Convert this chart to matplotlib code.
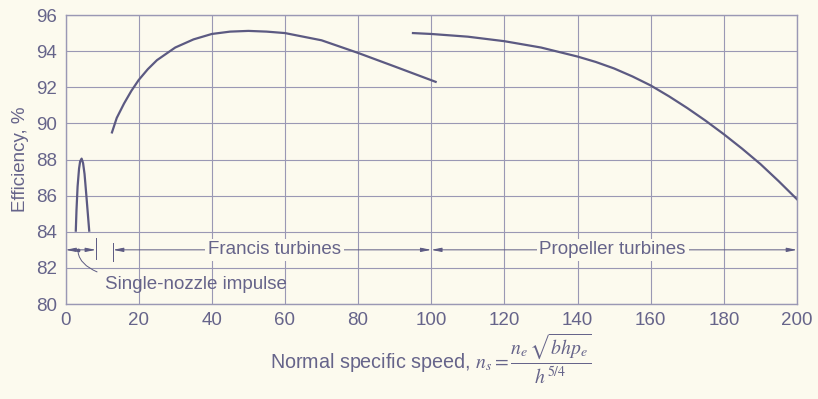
import matplotlib
matplotlib.use("Agg")
import matplotlib.pyplot as plt

# Efficiency curves versus normal specific speed
impulse_ns = [2.8, 3.0, 3.3, 3.7, 4.0, 4.4, 4.8, 5.2, 5.7, 6.1, 6.5]
impulse_eff = [84.0, 85.2, 86.5, 87.5, 87.9, 88.05, 87.8, 87.2, 86.0, 85.0, 84.0]

francis_ns = [12.7, 14, 16, 18, 20, 22.5, 25, 30, 35, 40, 45, 50, 55, 60, 70, 80, 90, 101.2]
francis_eff = [89.5, 90.3, 91.1, 91.8, 92.4, 93.0, 93.5, 94.2, 94.65, 94.95, 95.08, 95.12, 95.08, 95.0, 94.6, 93.9, 93.15, 92.3]

propeller_ns = [95, 100, 110, 120, 130, 140, 145, 150, 155, 160, 165, 170, 175, 180, 185, 190, 195, 200]
propeller_eff = [95.0, 94.95, 94.8, 94.55, 94.2, 93.7, 93.4, 93.04, 92.6, 92.1, 91.5, 90.85, 90.15, 89.4, 88.6, 87.75, 86.8, 85.8]

x_ticks = [0, 20, 40, 60, 80, 100, 120, 140, 160, 180, 200]
y_ticks = [80, 82, 84, 86, 88, 90, 92, 94, 96]

# Operating ranges marked along the 83 % line
impulse_range = (0, 8.3)
francis_range = (13, 100)
propeller_range = (100, 200)
range_level = 83

bg = "#fcfaee"
ink = "#5c5a82"
grid_c = "#9a98b4"
text_c = "#66648a"
fs = 13.5

plt.rcParams["font.family"] = ["Liberation Sans", "DejaVu Sans"]
plt.rcParams["mathtext.fontset"] = "stix"

fig = plt.figure(figsize=(8.18, 3.99), dpi=100, facecolor=bg)
ax = fig.add_axes([0.0801, 0.238, 0.8942, 0.7244], facecolor=bg)

ax.set_xlim(0, 200)
ax.set_ylim(80, 96)
ax.set_xticks(x_ticks)
ax.set_yticks(y_ticks)
ax.grid(True, color=grid_c, lw=0.8)
ax.set_axisbelow(True)
for s in ax.spines.values():
    s.set_color(grid_c)
    s.set_linewidth(1.0)
ax.tick_params(length=0, pad=6, labelsize=fs, labelcolor=text_c)

ax.plot(impulse_ns, impulse_eff, color=ink, lw=1.6, solid_capstyle="butt")
ax.plot(francis_ns, francis_eff, color=ink, lw=1.6)
ax.plot(propeller_ns, propeller_eff, color=ink, lw=1.6)

arrow_kw = dict(arrowstyle="<|-|>,head_length=0.6,head_width=0.12",
                color=ink, lw=0.7, shrinkA=0, shrinkB=0)

# Single-nozzle impulse range
ax.annotate("", xy=(impulse_range[0], range_level),
            xytext=(impulse_range[1], range_level), arrowprops=arrow_kw)
ax.plot([impulse_range[1]] * 2, [82.5, 83.65], color=ink, lw=0.7)
ax.plot([3.4], [range_level], marker="o", ms=1.8, color=ink)

# Francis range
ax.annotate("", xy=(francis_range[0], range_level),
            xytext=(francis_range[1], range_level), arrowprops=arrow_kw)
ax.plot([francis_range[0]] * 2, [82.4, 83.4], color=ink, lw=0.7)
ax.text(57.2, range_level, "Francis turbines", ha="center", va="center",
        fontsize=fs, color=text_c,
        bbox=dict(boxstyle="square,pad=0.15", fc=bg, ec="none"))

# Propeller range
ax.annotate("", xy=(propeller_range[0], range_level),
            xytext=(propeller_range[1], range_level), arrowprops=arrow_kw)
ax.text(149.6, range_level, "Propeller turbines", ha="center", va="center",
        fontsize=fs, color=text_c,
        bbox=dict(boxstyle="square,pad=0.15", fc=bg, ec="none"))

ax.annotate("Single-nozzle impulse", xy=(3.4, range_level), xytext=(10.8, 81.1),
            ha="left", va="center", fontsize=fs, color=text_c,
            arrowprops=dict(arrowstyle="-", color=ink, lw=0.7, shrinkA=4, shrinkB=2,
                            connectionstyle="angle3,angleA=0,angleB=90"))

ax.set_ylabel("Efficiency, %", fontsize=fs, color=text_c, labelpad=5)
ax.set_xlabel(r"Normal specific speed, $n_s = \dfrac{n_e\,\sqrt{bhp_e}}{h^{5/4}}$",
              fontsize=14.2, color=text_c, labelpad=2)

fig.savefig("out.png", dpi=100, facecolor=bg)
